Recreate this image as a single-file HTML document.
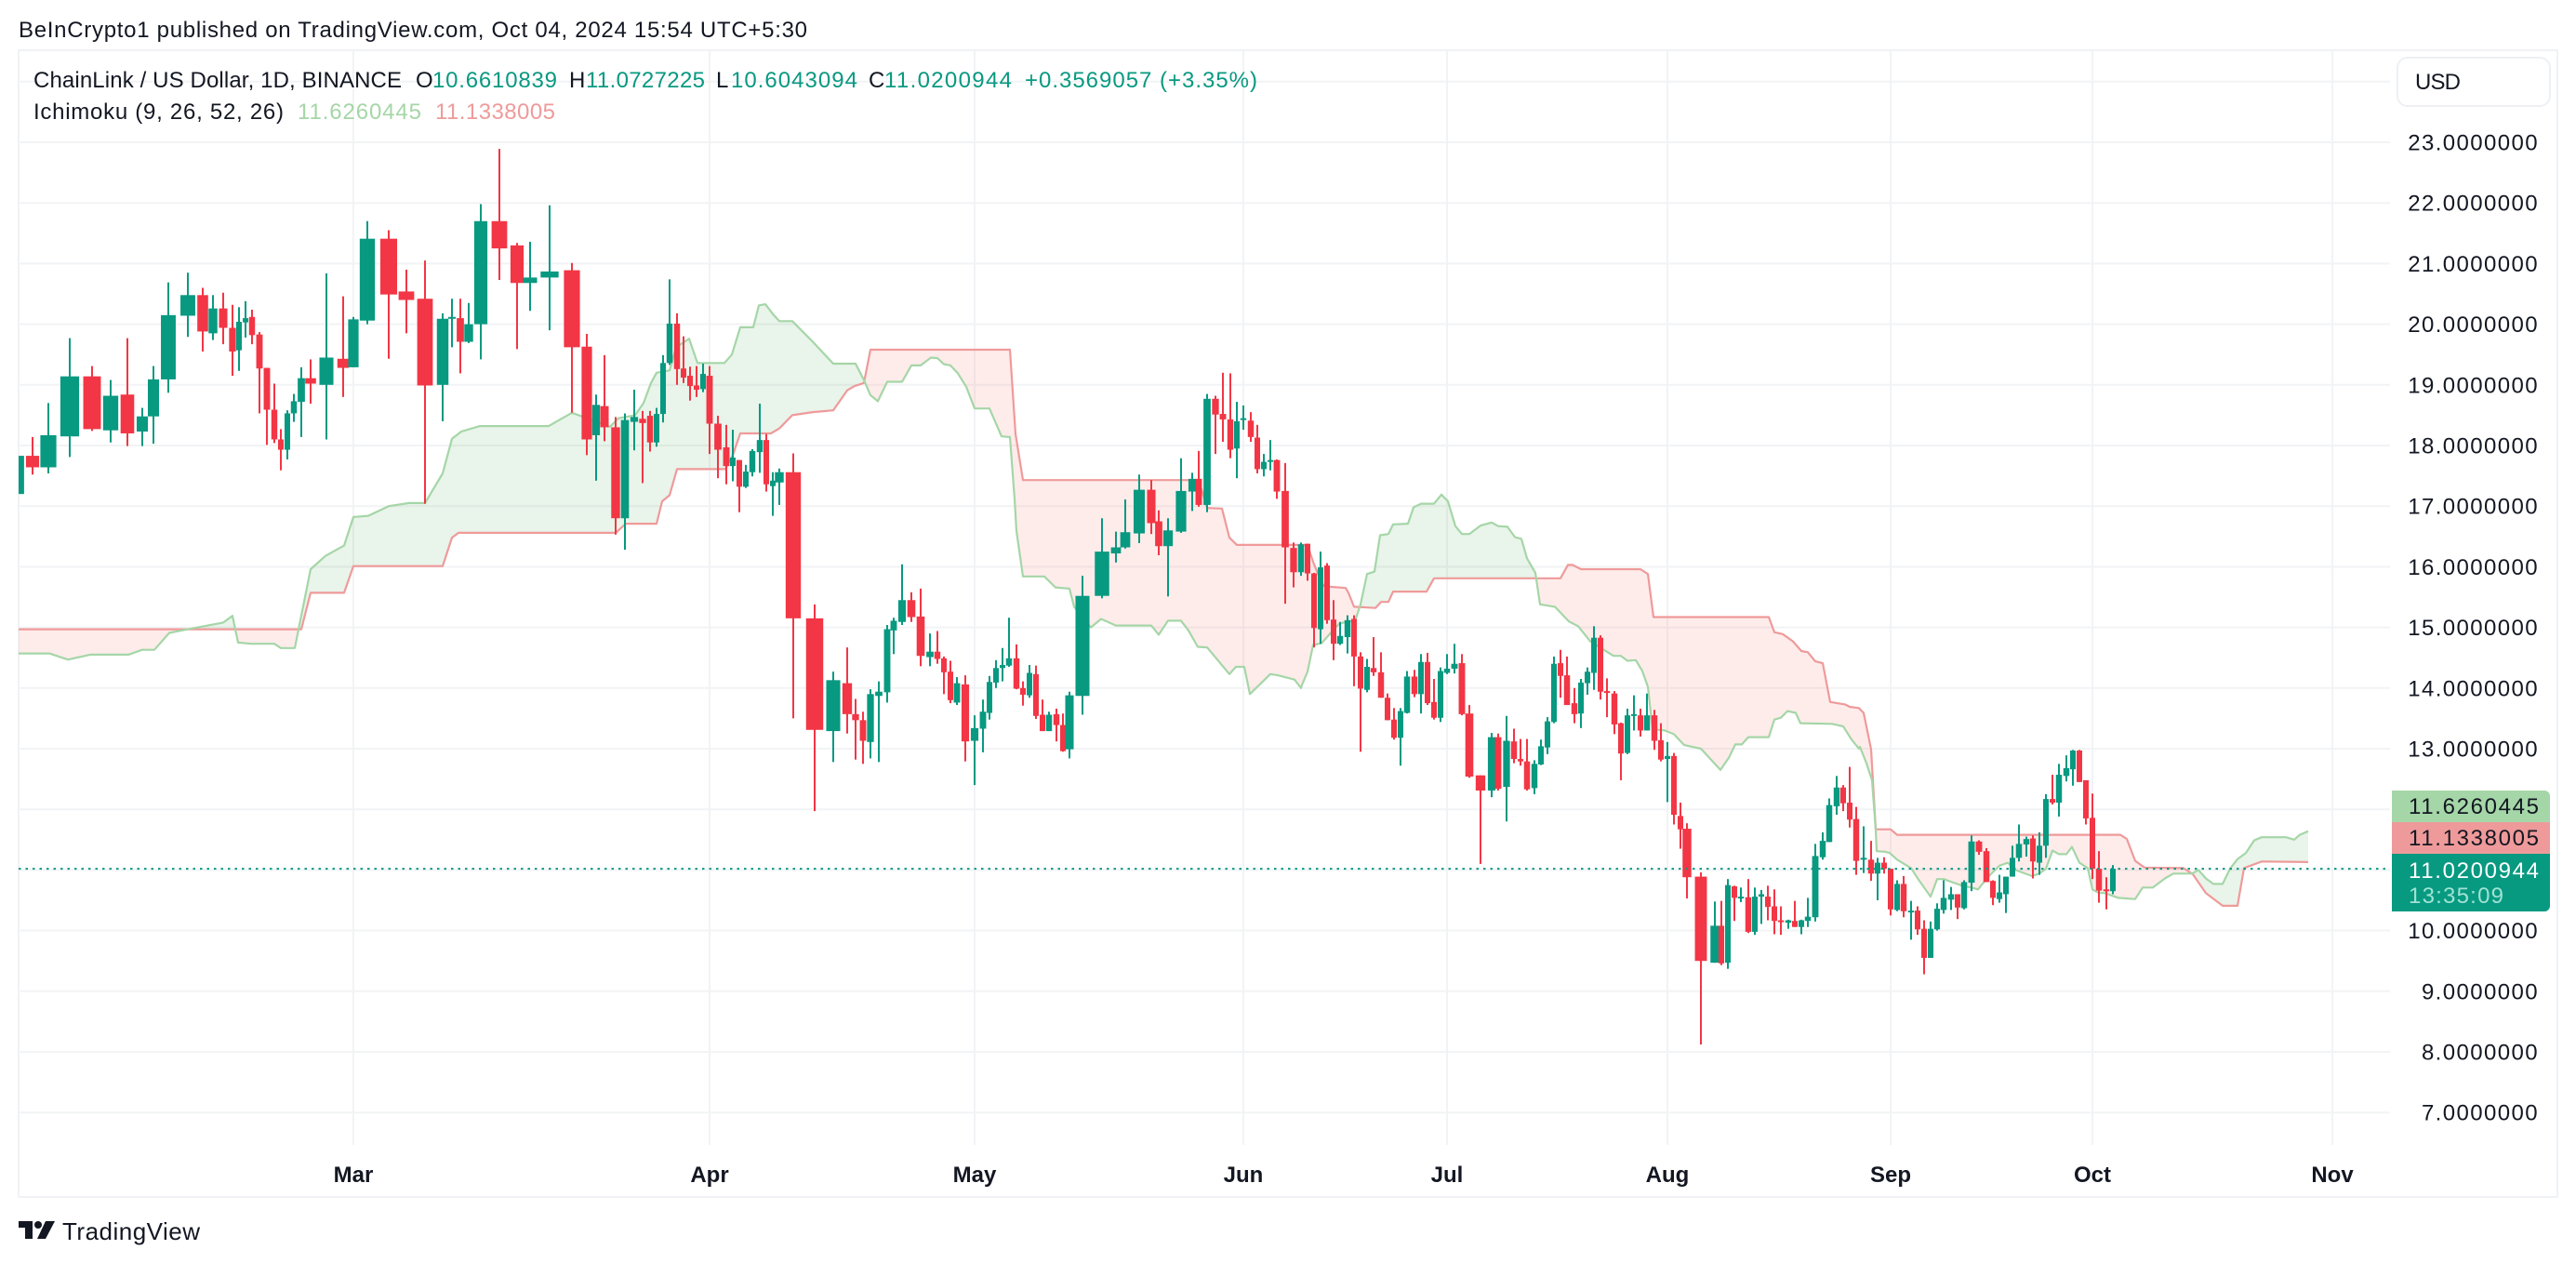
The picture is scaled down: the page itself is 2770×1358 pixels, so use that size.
<!DOCTYPE html>
<html lang="en">
<head>
<meta charset="utf-8">
<title>ChainLink / US Dollar Ichimoku chart</title>
<style>
html,body{margin:0;padding:0;background:#fff;width:2770px;height:1358px;overflow:hidden}
svg{display:block}
text{font-family:"Liberation Sans",sans-serif;font-size:24px;fill:#131722}
</style>
</head>
<body>
<svg id="chart" xmlns="http://www.w3.org/2000/svg" width="2770" height="1358" viewBox="0 0 2770 1358">
  <defs><clipPath id="plot-clip"><rect x="20" y="54" width="2550" height="1178"/></clipPath></defs>
  <rect x="0" y="0" width="2770" height="1358" fill="#ffffff"/>
  <text x="20" y="40" textLength="848" lengthAdjust="spacing">BeInCrypto1 published on TradingView.com, Oct 04, 2024 15:54 UTC+5:30</text>
  <rect x="20" y="54" width="2730" height="1233" fill="none" stroke="#f0f2f5" stroke-width="2"/>
  <g id="grid"></g>
  <g id="cloud" clip-path="url(#plot-clip)"></g>
  <g id="candles" clip-path="url(#plot-clip)"></g>
  <line id="last-price-line" stroke="#089981" stroke-width="2" stroke-dasharray="2.5 5"/>
  <g id="price-axis"></g>
  <g id="time-axis"></g>

  <text x="36" y="94" textLength="396" lengthAdjust="spacing">ChainLink / US Dollar, 1D, BINANCE</text>
  <text x="447" y="94">O</text>
  <text x="465" y="94" textLength="134" style="fill:#089981">10.6610839</text>
  <text x="612" y="94">H</text>
  <text x="630" y="94" textLength="128" style="fill:#089981">11.0727225</text>
  <text x="770" y="94">L</text>
  <text x="786" y="94" textLength="136" style="fill:#089981">10.6043094</text>
  <text x="934" y="94">C</text>
  <text x="951" y="94" textLength="137" style="fill:#089981">11.0200944</text>
  <text x="1102" y="94" textLength="250" style="fill:#089981">+0.3569057 (+3.35%)</text>
  <text x="36" y="128" textLength="269" lengthAdjust="spacing">Ichimoku (9, 26, 52, 26)</text>
  <text x="320" y="128" textLength="133" style="fill:#A5D6A7">11.6260445</text>
  <text x="468" y="128" textLength="129" style="fill:#EF9A9A">11.1338005</text>

  <g>
    <rect x="2578" y="62" width="164" height="52" rx="11" fill="#fff" stroke="#eef0f3" stroke-width="2"/>
    <text x="2597" y="96" textLength="49">USD</text>
  </g>

  <path d="M2572 850H2736a6 6 0 0 1 6 6V884H2572Z" fill="#A5D6A7"/>
  <text x="2590" y="875" textLength="140">11.6260445</text>
  <path d="M2572 884H2742V918H2572Z" fill="#EF9A9A"/>
  <text x="2590" y="909" textLength="140">11.1338005</text>
  <path d="M2572 918H2742V974a6 6 0 0 1 -6 6H2572Z" fill="#089981"/>
  <text x="2590" y="944" textLength="140" style="fill:#ffffff">11.0200944</text>
  <text x="2590" y="971" textLength="102" style="fill:#9fe3d3">13:35:09</text>

  <g>
    <path d="M20 1313H35V1332H27V1320H20Z" fill="#131722"/>
    <circle cx="41" cy="1317" r="4" fill="#131722"/>
    <path d="M49 1313H59L49 1332H40Z" fill="#131722"/>
    <text x="67" y="1333" textLength="148" lengthAdjust="spacing" style="font-size:26px">TradingView</text>
  </g>
</svg>

<script>
// Time coordinate of each daily bar, as read along the image's locally stretched time axis.
const barTime = [
1.9,3.5,5.2,7.5,9.9,11.9,13.7,15.3,16.5,18.1,
20.2,21.8,22.9,24.0,25.0,25.7,26.4,27.1,27.9,28.7,
29.5,30.2,30.9,31.6,32.4,33.4,35.1,36.9,38.0,39.5,
41.8,43.7,45.7,47.6,48.6,49.5,50.4,51.7,53.7,55.6,
57.0,59.1,61.5,63.1,64.1,65.0,66.2,67.2,68.2,69.1,
69.9,70.6,71.3,72.0,72.8,73.5,74.2,74.9,75.6,76.3,
77.2,78.1,78.8,79.5,80.2,80.9,81.7,82.4,83.1,83.8,
85.3,87.6,89.6,91.1,92.0,92.8,93.6,94.5,95.4,96.1,
97.0,98.0,99.0,100.0,100.8,101.5,102.2,102.9,103.8,104.8,
105.7,106.4,107.1,107.8,108.5,109.3,110.0,110.7,111.4,112.1,
112.8,113.6,114.3,115.0,116.4,118.5,120.0,121.0,122.5,123.8,
124.6,125.6,127.0,128.2,128.9,129.8,130.7,131.5,132.3,133.0,
133.7,134.5,135.2,135.9,136.6,137.3,138.2,139.1,139.9,140.6,
141.3,142.0,142.7,143.4,144.1,144.9,145.6,146.3,147.0,147.7,
148.5,149.2,149.9,150.6,151.3,152.1,152.8,153.5,154.2,154.9,
155.6,156.4,157.2,158.0,159.2,160.4,161.1,162.0,162.8,163.5,
164.2,165.0,165.7,166.4,167.1,167.8,168.5,169.3,170.0,170.7,
171.4,172.1,172.8,173.6,174.3,175.0,175.7,176.4,177.1,177.9,
178.6,179.3,180.0,180.7,181.4,182.9,184.4,185.1,185.8,186.5,
187.2,188.0,188.7,189.4,190.1,190.8,191.5,192.3,193.0,193.7,
194.4,195.2,196.0,196.7,197.5,198.2,198.9,199.6,200.4,201.2,
201.9,202.6,203.3,204.0,204.7,205.5,206.2,206.9,207.6,208.3,
209.0,209.8,210.5,211.2,212.0,212.8,213.6,214.3,215.0,215.7,
216.4,217.1,217.9,218.6,219.3,220.0,220.7,221.4,222.2,222.9,
223.6,224.3,225.0,225.7,226.5,227.2];

const opens = [
17.20,17.83,17.64,18.15,19.14,18.25,18.84,18.23,18.48,19.09,
20.14,20.48,19.85,20.26,19.94,19.57,20.03,20.12,19.83,19.28,
18.59,18.10,17.93,18.53,18.72,19.11,19.00,19.43,19.29,20.06,
21.41,20.54,20.42,19.00,20.10,20.10,19.71,20.00,21.70,21.30,
20.68,20.77,20.89,19.63,18.17,18.65,18.30,16.80,18.39,18.44,
18.49,18.05,18.52,19.36,20.01,19.27,19.15,18.99,18.93,19.15,
18.36,17.97,17.66,17.76,17.32,17.56,17.89,18.09,17.33,17.39,
17.56,15.15,13.29,14.08,13.57,13.47,13.11,13.87,13.93,14.95,
15.09,15.45,15.18,14.51,14.60,14.49,14.27,13.76,14.06,13.13,
13.33,13.59,14.09,14.33,14.37,14.49,14.00,13.88,14.23,13.56,
13.29,13.57,13.39,12.99,13.87,15.52,16.22,16.32,16.55,17.27,
16.75,16.34,16.58,17.24,17.45,17.02,18.77,18.52,18.43,17.95,
18.42,18.41,18.13,17.61,17.74,17.76,17.25,16.31,15.91,16.38,
15.89,14.97,16.02,15.13,14.73,14.84,15.14,14.52,13.97,14.33,
14.26,13.84,13.48,13.18,13.59,14.19,13.90,14.43,13.77,13.51,
14.25,14.32,14.41,13.58,12.56,12.31,13.19,12.37,13.12,12.83,
12.79,12.35,12.74,13.02,13.44,14.41,14.21,13.75,13.58,14.08,
14.25,14.83,13.95,13.91,13.42,12.93,13.55,13.55,13.30,13.55,
13.14,12.83,12.88,11.89,11.68,10.89,9.47,10.08,9.47,10.73,
10.53,10.55,9.98,10.56,10.56,10.40,10.17,10.13,10.16,10.06,
10.16,10.22,11.21,11.46,12.05,12.36,12.11,11.84,11.18,11.17,
10.94,11.12,11.02,10.34,10.77,10.30,10.33,10.03,9.55,10.02,
10.34,10.51,10.60,10.37,10.79,11.47,11.31,10.82,10.52,10.60,
10.89,11.20,11.42,11.52,11.12,11.40,12.17,12.11,12.55,12.66,
12.97,12.48,11.86,11.02,10.68,10.65];

const closes = [
17.83,17.64,18.17,19.14,18.27,18.82,18.20,18.48,19.09,20.15,
20.48,19.88,20.26,19.94,19.55,20.04,20.10,19.82,19.27,18.59,
18.10,17.93,18.53,18.73,19.11,19.02,19.45,19.28,20.08,21.41,
20.49,20.40,18.99,20.09,20.12,19.71,20.00,21.70,21.25,20.68,
20.77,20.87,19.62,18.10,18.67,18.30,16.80,18.42,18.47,18.37,
18.05,18.52,19.36,20.01,19.26,19.12,18.98,18.92,19.18,18.36,
17.93,17.66,17.80,17.32,17.57,17.91,18.09,17.36,17.42,17.56,
15.15,13.31,14.13,13.57,13.47,13.13,13.90,13.94,14.97,15.11,
15.45,15.17,14.53,14.60,14.48,14.26,13.80,14.08,13.12,13.34,
13.61,14.10,14.33,14.38,14.49,13.99,13.89,14.25,13.54,13.29,
13.56,13.39,12.96,13.88,15.52,16.25,16.32,16.57,17.27,16.72,
16.34,16.60,17.25,17.45,17.02,18.77,18.51,18.43,17.93,18.40,
18.45,18.14,17.61,17.73,17.76,17.24,16.32,15.91,16.37,15.89,
14.99,15.99,15.12,14.73,14.86,15.12,14.52,13.99,14.35,14.26,
13.84,13.47,13.18,13.62,14.19,13.90,14.43,13.75,13.51,14.28,
14.32,14.40,13.57,12.54,12.31,13.19,12.34,13.13,12.83,12.79,
12.33,12.75,13.04,13.45,14.40,14.20,13.72,13.57,14.09,14.27,
14.83,13.94,13.93,13.40,12.92,13.55,13.57,13.30,13.55,13.13,
12.82,12.88,11.91,11.67,10.88,9.50,10.08,9.46,10.75,10.54,
10.56,9.98,10.56,10.60,10.39,10.16,10.15,10.17,10.06,10.17,
10.23,11.23,11.48,12.07,12.36,12.10,11.83,11.15,11.20,10.94,
11.12,11.02,10.35,10.77,10.32,10.33,10.02,9.55,10.03,10.36,
10.54,10.60,10.38,10.80,11.47,11.30,10.80,10.54,10.63,10.89,
11.20,11.43,11.51,11.14,11.40,12.17,12.11,12.57,12.68,12.97,
12.45,11.85,11.02,10.66,10.65,11.02];

const highs = [
17.83,18.14,18.70,19.77,19.31,19.08,19.77,18.62,19.31,20.69,
20.85,20.60,20.48,20.52,20.32,20.28,20.38,20.24,19.87,19.28,
19.02,18.27,18.58,18.85,19.29,19.42,20.84,20.46,20.12,21.70,
21.55,20.90,21.05,20.18,20.42,20.42,20.35,21.98,22.89,21.34,
21.36,21.96,21.01,19.84,18.84,19.49,18.47,18.53,18.92,18.57,
18.57,18.62,19.49,20.74,20.18,19.80,19.30,19.31,19.35,19.31,
18.49,18.34,18.26,17.76,17.68,17.94,18.69,18.19,17.56,17.62,
17.87,15.38,14.27,14.67,13.82,13.61,13.98,14.11,15.04,15.16,
16.04,15.58,15.64,14.90,14.94,14.52,14.45,14.18,14.21,13.55,
13.81,14.20,14.46,14.66,15.16,14.72,14.11,14.38,14.37,13.81,
13.61,13.66,13.58,13.94,15.85,16.80,16.58,17.11,17.52,17.43,
16.93,16.80,17.79,17.55,17.91,18.85,18.82,19.20,19.19,18.72,
18.66,18.55,18.34,17.86,18.09,17.77,17.71,16.40,16.40,16.38,
15.90,16.25,16.06,15.45,15.09,15.20,15.20,14.59,14.48,14.84,
14.59,13.91,13.67,13.67,14.28,14.30,14.56,14.58,14.15,14.34,
14.56,14.73,14.56,13.72,12.56,13.26,13.25,13.54,13.33,13.16,
13.16,12.81,13.15,13.52,14.52,14.63,14.52,14.00,14.15,14.34,
15.02,14.87,14.16,13.95,13.43,13.66,13.88,13.66,13.91,13.64,
13.42,13.11,12.93,12.11,11.77,10.96,10.48,10.49,10.85,10.74,
10.71,10.85,10.71,10.67,10.74,10.68,10.40,10.18,10.49,10.18,
10.54,11.43,11.62,12.18,12.55,12.40,12.70,12.04,11.72,11.48,
11.20,11.21,11.02,10.83,10.90,10.49,10.40,10.17,10.15,10.45,
10.83,10.72,10.60,10.83,11.57,11.49,11.36,10.83,10.92,10.89,
11.40,11.75,11.55,11.57,11.62,12.25,12.57,12.75,12.89,12.98,
12.98,12.48,12.26,11.31,10.88,11.08];

const lows = [
17.20,17.52,17.54,17.81,18.24,18.05,17.99,17.99,18.03,18.87,
19.79,19.55,19.74,19.67,19.15,19.23,19.78,19.67,18.53,18.01,
18.04,17.59,17.77,18.39,18.14,18.69,18.10,18.80,19.29,20.00,
19.43,19.85,17.04,18.40,19.62,19.19,19.69,19.42,20.73,19.59,
20.22,19.90,18.54,17.84,17.42,18.07,16.53,16.28,17.92,17.38,
17.90,17.98,18.38,19.33,19.00,19.03,18.74,18.80,18.88,17.86,
17.46,17.36,17.41,16.90,17.30,17.49,17.55,17.24,16.84,17.02,
13.50,11.97,12.78,13.25,12.82,12.75,12.84,12.78,13.76,14.56,
15.04,15.09,14.36,14.36,14.40,13.90,13.75,13.72,12.79,12.40,
12.94,13.48,14.00,14.11,14.35,13.98,13.71,13.84,13.49,13.29,
13.29,13.12,12.95,12.84,13.56,15.48,16.07,16.30,16.39,16.54,
16.19,15.51,16.56,16.92,16.99,16.90,17.86,18.06,17.79,17.46,
18.26,18.06,17.54,17.49,17.59,17.12,15.39,15.66,15.85,15.77,
14.67,14.73,15.06,14.46,14.71,14.57,14.03,12.95,13.93,14.20,
13.84,13.47,13.15,12.72,13.58,13.85,13.58,13.72,13.48,13.44,
14.23,14.24,13.55,12.52,11.10,12.20,12.31,11.80,12.76,12.72,
12.31,12.25,12.73,12.91,13.42,13.84,13.72,13.42,13.34,13.89,
13.97,13.81,13.52,13.24,12.48,12.91,13.30,13.20,13.30,12.98,
12.79,12.12,11.75,11.35,10.53,8.12,9.47,9.43,9.37,10.16,
10.47,9.96,9.93,10.11,10.17,9.94,9.93,10.03,10.06,9.94,
10.06,10.15,11.17,11.46,11.91,11.97,11.70,10.92,10.95,10.82,
10.50,10.94,10.25,10.32,10.22,9.85,9.93,9.28,9.55,10.00,
10.28,10.34,10.19,10.35,10.65,11.25,10.80,10.42,10.46,10.29,
10.89,11.14,11.22,10.86,10.92,11.20,12.08,11.88,12.46,12.39,
12.45,11.75,10.85,10.46,10.35,10.60];

const spanATime = [
2,5.3,7.3,9.7,13.8,15.3,16.6,18.2,20.2,24,25,25.6,27,29.5,30.2,31.7,32.8,
33.4,35,37,38,39.6,41.8,44,45.7,47.6,48.6,49.6,51.6,59,61.5,65.6,66.5,68.3,69.2,70,
70.6,72,72.7,74.1,75,77.9,78.7,79.6,81,81.6,82.3,83.2,83.8,85.2,87.4,89.6,92,92.9,93.6,94.4,95.4,
97,98,99,100.1,100.8,101.5,102.2,103,103.9,104.8,106.4,107.7,108.6,109.1,109.3,110,112.3,113.5,115,115.5,
117.3,118.4,120,123.8,124.6,125.6,127,127.8,128.8,129.8,132.2,132.9,133.8,134.4,136.6,137.4,139.2,139.9,
140,140.6,141.2,142.1,143.1,144,145,145.7,146.3,147,147.8,148.4,149.3,149.8,151.4,152,152.8,154.2,155,155.7,156.5,157.2,158,
159.2,160.4,161.1,162.1,162.9,163.6,164.2,165.1,165.6,167.2,168.7,169.7,171,173.5,174.3,175,175.9,176.6,177.2,177.7,
179,180,181.1,182.9,185,185.9,186.6,187.3,188,190.2,190.8,191.5,192.2,193.1,193.6,197,198.2,199.1,199.9,
200,200.7,201.3,201.7,201.8,202.7,203.2,204,205.5,206.3,207.6,208.3,209,211,212,212.7,213.8,215,215.9,216.7,218.5,219.3,220,
220.7,221.4,222.2,222.8,223.6,224.5,225,225.7,226.3,227.8,229.6,230.4,231.5,232.8,233.7,235.7,236.4,237.2,238,239,
239.8,240.6,241.5,242.4,243.2,245.8,246.7,247.3,248.2];
const spanA = [
14.57,14.57,14.47,14.55,14.55,14.63,14.63,14.91,14.97,15.08,15.19,14.75,14.73,14.73,14.66,14.66,15.5,
15.96,16.18,16.35,16.82,16.84,17.00,17.05,17.05,17.54,18.11,18.23,18.32,18.32,18.54,18.31,18.45,18.50,18.70,19.03,
19.20,19.24,19.62,19.76,19.36,19.36,19.50,19.95,19.95,20.31,20.33,20.15,20.05,20.05,19.71,19.35,19.35,19.08,18.83,18.73,19.05,
19.05,19.32,19.32,19.45,19.44,19.34,19.32,19.19,18.97,18.61,18.61,18.15,18.14,17.12,16.59,15.84,15.84,15.66,15.64,15.34,
15.00,15.14,15.03,15.03,14.88,15.11,15.11,14.95,14.68,14.67,14.23,14.35,14.35,13.90,14.23,14.21,14.14,14.00,
14.05,14.27,14.71,14.74,14.91,15.06,15.10,15.10,15.38,15.88,15.92,16.52,16.54,16.70,16.71,16.98,17.04,17.04,17.19,17.08,16.67,16.54,16.54,
16.68,16.73,16.67,16.66,16.49,16.46,16.14,15.90,15.38,15.34,15.10,15.02,14.77,14.53,14.53,14.45,14.46,14.28,14.02,13.32,
13.30,13.24,13.06,13.00,12.65,12.85,13.07,13.07,13.19,13.19,13.48,13.51,13.62,13.59,13.42,13.41,13.37,13.15,13.00,
13.03,12.76,12.48,11.66,11.31,11.30,11.28,11.17,11.03,10.84,10.56,10.85,10.85,10.74,10.71,10.68,10.89,11.07,11.12,11.00,10.90,10.94,11.02,
11.32,11.26,11.26,11.38,11.12,11.03,10.68,10.62,10.62,10.54,10.52,10.71,10.71,10.86,10.94,10.94,11.00,10.86,10.77,10.77,
11.02,11.18,11.28,11.49,11.54,11.54,11.50,11.58,11.64];

const spanBTime = [
2,32.4,33.4,37,38,47.6,48.6,49.3,66.2,67.3,70.6,71.2,72,72.8,78,78.8,79.6,82.9,83.8,85.2,87.4,89.6,91.1,91.9,92.9,93.6,
108.6,109.2,110,128.9,129.8,131.4,132.2,133,137.9,140.6,141.2,141.7,142.3,143,144.7,145,145.6,147.9,148.5,149.3,149.8,153.4,
154.2,167.8,168.6,169.1,170,176.4,177.2,177.8,190.2,190.8,191.7,192.8,193.7,194.4,195.2,196,196.8,198.4,198.9,199.9,
200,200.4,201.2,201.7,203.3,204,228,228.7,229.6,230.6,234.8,235.8,237.2,239,240.6,241.3,243.2,248.2];
const spanB = [
14.97,14.97,15.57,15.57,16.01,16.01,16.48,16.56,16.56,16.71,16.71,17.08,17.18,17.61,17.61,17.84,18.20,18.20,18.28,18.50,18.55,18.58,18.91,18.98,19.03,19.58,
19.58,18.19,17.43,17.43,16.97,16.96,16.48,16.36,16.36,16.36,16.08,15.89,15.69,15.67,15.65,15.57,15.34,15.32,15.42,15.42,15.59,15.59,
15.81,15.81,16.03,16.03,15.96,15.96,15.88,15.17,15.17,14.92,14.89,14.77,14.61,14.59,14.44,14.41,13.77,13.73,13.69,13.67,
13.65,13.59,12.99,11.67,11.67,11.58,11.58,11.51,11.15,11.04,11.03,10.93,10.62,10.41,10.41,11.03,11.14,11.13];

const priceTicks = [24,23,22,21,20,19,18,17,16,15,14,13,12,11,10,9,8,7];
const priceTickLabels = ["","23.0000000","22.0000000","21.0000000","20.0000000","19.0000000","18.0000000","17.0000000","16.0000000","15.0000000","14.0000000","13.0000000","","","10.0000000","9.0000000","8.0000000","7.0000000"];
const monthTicks = [38.0,76.3,104.8,133.7,155.6,179.3,203.3,225.0,250.8];
const monthLabels = ["Mar","Apr","May","Jun","Jul","Aug","Sep","Oct","Nov"];
const lastPrice = 11.02;

const NS = 'http://www.w3.org/2000/svg';
const plotLeft = 20, plotRight = 2570, plotTop = 54, plotBottom = 1231;
const timeDomain = [2, 257];
const xScale = t => plotLeft + (t - timeDomain[0]) / (timeDomain[1] - timeDomain[0]) * (plotRight - plotLeft);
const yScale = p => 153 + (23 - p) * 65.2;

function make(tag, attrs, parent) {
  const el = document.createElementNS(NS, tag);
  for (const k in attrs) el.setAttribute(k, attrs[k]);
  parent.appendChild(el);
  return el;
}

const gridG = document.getElementById('grid');
const axisG = document.getElementById('price-axis');
priceTicks.forEach((p, i) => {
  const line = make('line', {x1: plotLeft, x2: plotRight, y1: yScale(p), y2: yScale(p), stroke: '#f2f3f5', 'stroke-width': 2}, gridG);
  
  
  if (priceTickLabels[i]) {
    const label = make('text', {x: 2730, y: yScale(p) + 8.5, 'text-anchor': 'end', 'letter-spacing': 1.4}, axisG);
    
    
    label.textContent = priceTickLabels[i];
  }
});

const timeG = document.getElementById('time-axis');
monthTicks.forEach((t, i) => {
  const line = make('line', {x1: xScale(t), x2: xScale(t), y1: plotTop, y2: plotBottom, stroke: '#f2f3f5', 'stroke-width': 2}, gridG);
  
  
  const label = make('text', {x: xScale(t), y: 1271, 'text-anchor': 'middle', 'font-weight': 'bold'}, timeG);
  
  
  label.textContent = monthLabels[i];
});

function interp(ts, vs, t) {
  if (t <= ts[0]) return vs[0];
  for (let i = 1; i < ts.length; i++) {
    if (t <= ts[i]) {
      const f = (t - ts[i - 1]) / ((ts[i] - ts[i - 1]) || 1);
      return vs[i - 1] + f * (vs[i] - vs[i - 1]);
    }
  }
  return vs[vs.length - 1];
}

const cloudG = document.getElementById('cloud');
const allT = Array.from(new Set(spanATime.concat(spanBTime))).sort((a, b) => a - b);
let segment = [];
let segmentUp = null;
function flushSegment() {
  if (segment.length < 2) return;
  const upper = segment.map(s => xScale(s.t) + ',' + yScale(s.a)).join(' ');
  const lower = segment.slice().reverse().map(s => xScale(s.t) + ',' + yScale(s.b)).join(' ');
  const poly = make('polygon', {points: upper + ' ' + lower, fill: segmentUp ? 'rgba(76,165,80,0.12)' : 'rgba(244,67,54,0.10)'}, cloudG);
  
  
}
allT.forEach((t, i) => {
  const a = interp(spanATime, spanA, t);
  const b = interp(spanBTime, spanB, t);
  const up = a >= b;
  if (segmentUp === null) segmentUp = up;
  if (up !== segmentUp) {
    const prev = segment[segment.length - 1];
    const d0 = prev.a - prev.b, d1 = a - b;
    const f = d0 / (d0 - d1);
    const ct = prev.t + f * (t - prev.t);
    const cv = prev.a + f * (a - prev.a);
    segment.push({t: ct, a: cv, b: cv});
    flushSegment();
    segment = [{t: ct, a: cv, b: cv}];
    segmentUp = up;
  }
  segment.push({t: t, a: a, b: b});
});
flushSegment();

const pathOf = (ts, vs) => ts.map((t, i) => (i ? 'L' : 'M') + xScale(t).toFixed(1) + ' ' + yScale(vs[i]).toFixed(1)).join('');
const spanBLine = make('path', {d: pathOf(spanBTime, spanB), fill: 'none', stroke: '#EF9A9A', 'stroke-width': 2.2, 'stroke-linejoin': 'round'}, cloudG);


const spanALine = make('path', {d: pathOf(spanATime, spanA), fill: 'none', stroke: '#A5D6A7', 'stroke-width': 2.2, 'stroke-linejoin': 'round'}, cloudG);



const candleG = document.getElementById('candles');
barTime.forEach((t, i) => {
  const x = xScale(t);
  const prevGap = i > 0 ? x - xScale(barTime[i - 1]) : xScale(barTime[i + 1]) - x;
  const nextGap = i < barTime.length - 1 ? xScale(barTime[i + 1]) - x : prevGap;
  const bodyWidth = (prevGap + nextGap) / 2 * 0.86;
  const rising = closes[i] >= opens[i];
  const colour = rising ? '#089981' : '#F23645';
  const wick = make('line', {x1: x, x2: x, y1: yScale(highs[i]), y2: yScale(lows[i]), stroke: colour, 'stroke-width': 2}, candleG);
  
  
  const top = yScale(Math.max(opens[i], closes[i]));
  const bottom = yScale(Math.min(opens[i], closes[i]));
  const body = make('rect', {x: x - bodyWidth / 2, y: top, width: bodyWidth, height: Math.max(bottom - top, 2), fill: colour}, candleG);
  
  
});

const lastLine = document.getElementById('last-price-line');
lastLine.setAttribute('x1', plotLeft);
lastLine.setAttribute('x2', 2567);
lastLine.setAttribute('y1', yScale(lastPrice));
lastLine.setAttribute('y2', yScale(lastPrice));
</script>
</body>
</html>
